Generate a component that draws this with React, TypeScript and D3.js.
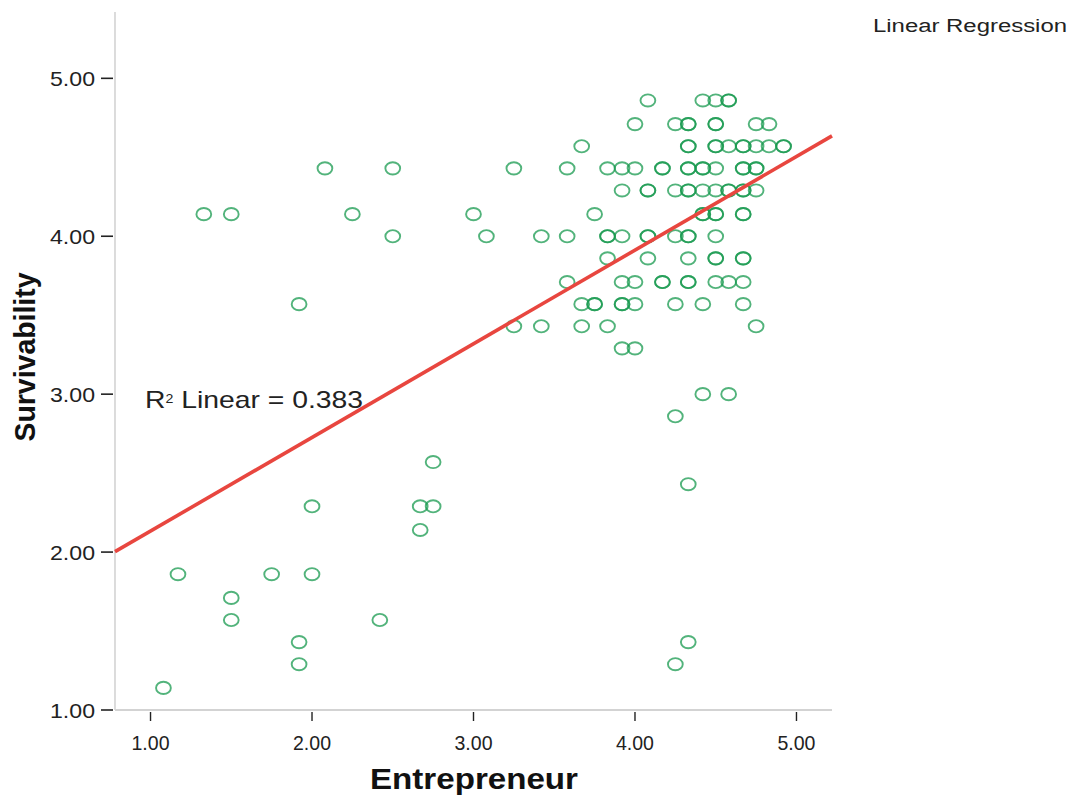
import React from 'react';
import * as d3 from 'd3';

// Survivability levels (rows of the scatter) and the Entrepreneur scores seen on each row.
// Repeated values mark circles that are drawn darker (overlapping cases).
const survivabilityLevels = [
  4.86, 4.71, 4.57, 4.43, 4.29, 4.14, 4.0, 3.86, 3.71, 3.57, 3.43, 3.29,
  3.0, 2.86, 2.57, 2.43, 2.29, 2.14, 1.86, 1.71, 1.57, 1.43, 1.29, 1.14,
];

const entrepreneurAtLevel: number[][] = [
  [4.08, 4.42, 4.5, 4.58, 4.58],
  [4.0, 4.25, 4.33, 4.33, 4.5, 4.5, 4.75, 4.83],
  [3.67, 4.33, 4.33, 4.5, 4.5, 4.58, 4.67, 4.67, 4.75, 4.83, 4.92, 4.92],
  [2.08, 2.5, 3.25, 3.58, 3.83, 3.92, 4.0, 4.17, 4.17, 4.33, 4.33, 4.42, 4.42, 4.5, 4.67, 4.67, 4.75, 4.75],
  [3.92, 4.08, 4.08, 4.25, 4.33, 4.33, 4.42, 4.5, 4.58, 4.58, 4.67, 4.67, 4.75],
  [1.33, 1.5, 2.25, 3.0, 3.75, 4.42, 4.42, 4.5, 4.5, 4.67, 4.67],
  [2.5, 3.08, 3.42, 3.58, 3.83, 3.83, 3.92, 4.08, 4.08, 4.25, 4.33, 4.33, 4.5],
  [3.83, 4.08, 4.33, 4.5, 4.5, 4.67, 4.67],
  [3.58, 3.92, 4.0, 4.17, 4.17, 4.33, 4.33, 4.5, 4.58, 4.67],
  [1.92, 3.67, 3.75, 3.75, 3.92, 3.92, 4.0, 4.25, 4.42, 4.67],
  [3.25, 3.42, 3.67, 3.83, 4.75],
  [3.92, 4.0],
  [4.42, 4.58],
  [4.25],
  [2.75],
  [4.33],
  [2.0, 2.67, 2.75],
  [2.67],
  [1.17, 1.75, 2.0],
  [1.5],
  [1.5, 2.42],
  [1.92, 4.33],
  [1.92, 4.25],
  [1.08],
];

const xTicks = [1, 2, 3, 4, 5];
const yTicks = [1, 2, 3, 4, 5];

// fit line: Survivability = b0 + b1 * Entrepreneur
const fitIntercept = 1.54;
const fitSlope = 0.593;
const r2Label = '0.383';

const FONT = '"Liberation Sans", Arial, Helvetica, sans-serif';

export default function App() {
  const x = d3.scaleLinear().domain([0.78, 5.22]).range([115, 832]);
  const y = d3.scaleLinear().domain([1, 5.42]).range([710, 12]);

  const points: { ex: number; sv: number }[] = [];
  survivabilityLevels.forEach((sv, i) => {
    entrepreneurAtLevel[i].forEach((ex) => points.push({ ex, sv }));
  });

  const [x0, x1] = x.domain();
  const fit = d3.line<number>()
    .x((d) => x(d))
    .y((d) => y(fitIntercept + fitSlope * d));

  return (
    <svg
      width={1073}
      height={796}
      style={{ position: 'absolute', left: 0, top: 0, background: '#fff' }}
      fontFamily={FONT}
    >
      <rect width={1073} height={796} fill="#fff" />

      {/* axis lines */}
      <line x1={x.range()[0]} x2={x.range()[0]} y1={y.range()[1]} y2={y.range()[0]} stroke="#d3d3d3" strokeWidth={1.6} />
      <line x1={x.range()[0]} x2={x.range()[1]} y1={y.range()[0]} y2={y.range()[0]} stroke="#d3d3d3" strokeWidth={1.8} />

      {/* y ticks */}
      {yTicks.map((t) => (
        <g key={'y' + t}>
          <line x1={101} x2={113} y1={y(t)} y2={y(t)} stroke="#222" strokeWidth={1.6} />
          <text x={95} y={y(t)} dy="0.36em" textAnchor="end" fontSize={21} fill="#222"
            textLength={45} lengthAdjust="spacingAndGlyphs">
            {t.toFixed(2)}
          </text>
        </g>
      ))}

      {/* x ticks */}
      {xTicks.map((t) => (
        <g key={'x' + t}>
          <line x1={x(t)} x2={x(t)} y1={712} y2={721} stroke="#222" strokeWidth={1.4} />
          <text x={x(t)} y={750} textAnchor="middle" fontSize={21} fill="#222"
            textLength={38} lengthAdjust="spacingAndGlyphs">
            {t.toFixed(2)}
          </text>
        </g>
      ))}

      {/* points */}
      <g fill="none" stroke="#18994f" strokeOpacity={0.75} strokeWidth={1.9}>
        {points.map((p, i) => (
          <ellipse key={i} cx={x(p.ex)} cy={y(p.sv)} rx={7.4} ry={6.1} />
        ))}
      </g>

      {/* regression line */}
      <path d={fit([x0, x1]) ?? ''} stroke="#e8463f" strokeWidth={3.6} fill="none" />

      <text x={145} y={408} fontSize={24} fill="#222" textLength={218} lengthAdjust="spacingAndGlyphs">
        R<tspan fontSize={12} dy={-5}>2</tspan>
        <tspan dy={5}> Linear = {r2Label}</tspan>
      </text>

      <text x={873} y={32} fontSize={18} fill="#222" textLength={194} lengthAdjust="spacingAndGlyphs">
        Linear Regression
      </text>

      {/* axis titles */}
      <text x={474} y={789} textAnchor="middle" fontSize={30} fontWeight="bold" fill="#111"
        textLength={208} lengthAdjust="spacingAndGlyphs">
        Entrepreneur
      </text>
      <text transform={`translate(35,357) rotate(-90)`} textAnchor="middle" fontSize={30} fontWeight="bold" fill="#111"
        textLength={169} lengthAdjust="spacingAndGlyphs">
        Survivability
      </text>
    </svg>
  );
}
